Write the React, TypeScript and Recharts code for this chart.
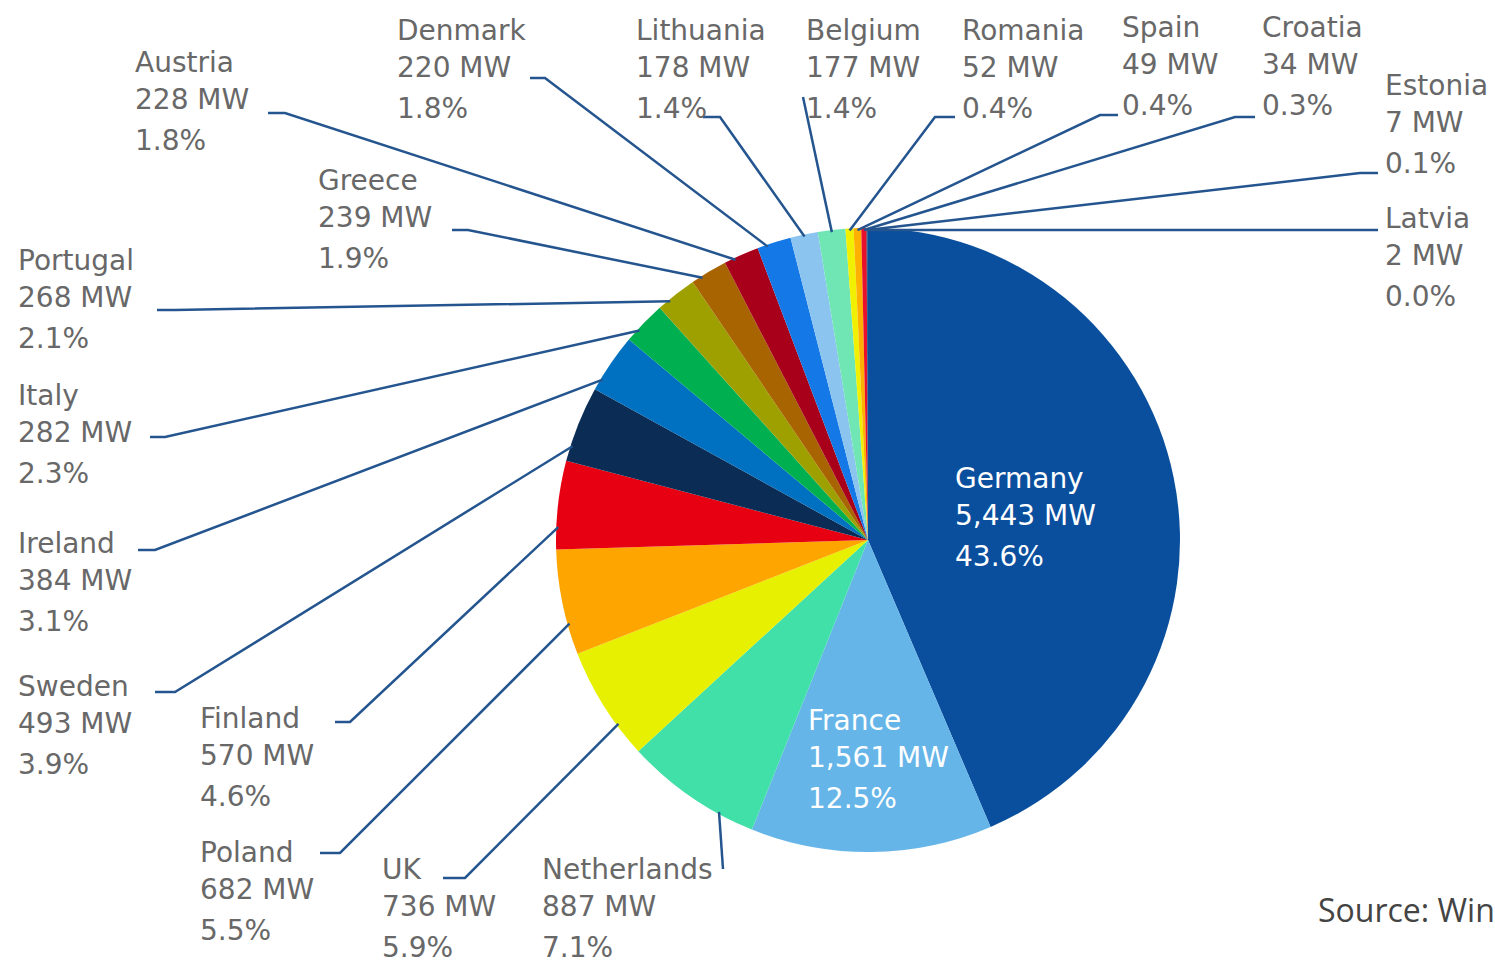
import React from "react";
import { PieChart, Pie, Cell } from "recharts";

const countries = [
  "Germany", "France", "Netherlands", "UK", "Poland", "Finland", "Sweden", "Ireland",
  "Italy", "Portugal", "Greece", "Austria", "Denmark", "Lithuania", "Belgium",
  "Romania", "Spain", "Croatia", "Estonia", "Latvia",
];
const capacityMW = [5443, 1561, 887, 736, 682, 570, 493, 384, 282, 268, 239, 228, 220, 178, 177, 52, 49, 34, 7, 2];
const shareLabels = [
  "43.6%", "12.5%", "7.1%", "5.9%", "5.5%", "4.6%", "3.9%", "3.1%", "2.3%", "2.1%",
  "1.9%", "1.8%", "1.8%", "1.4%", "1.4%", "0.4%", "0.4%", "0.3%", "0.1%", "0.0%",
];
const sliceColors = [
  "#0a4f9e", "#66b5e8", "#40e0a8", "#e6f000", "#ffa500", "#e60012", "#0b2d55", "#0070c0",
  "#00b050", "#9ea000", "#a86400", "#a8001a", "#1478e6", "#8cc4f0", "#70e6b4",
  "#f0f000", "#ffb000", "#e8102a", "#0b2d55", "#0070c0",
];

// label layout (text position, elbow segment, optional angle offset in degrees clockwise)
const labelLayout = [
  { x: 955, y: 478, inside: true },
  { x: 808, y: 720, inside: true },
  { x: 542, y: 869, hx1: 723, hx2: 723, hy: 869, off: -5.9 },
  { x: 382, y: 869, hx1: 443, hx2: 465, hy: 878, off: -4.4 },
  { x: 200, y: 852, hx1: 320, hx2: 340, hy: 853, off: -4.1 },
  { x: 200, y: 718, hx1: 335, hx2: 350, hy: 722, off: -4.1 },
  { x: 18, y: 686, hx1: 155, hx2: 175, hy: 692, off: -4.2 },
  { x: 18, y: 543, hx1: 138, hx2: 155, hy: 550, off: -3.3 },
  { x: 18, y: 395, hx1: 150, hx2: 165, hy: 437, off: -1.5 },
  { x: 18, y: 260, hx1: 157, hx2: 175, hy: 310, off: -1.6 },
  { x: 318, y: 180, hx1: 452, hx2: 468, hy: 230, off: -1.5 },
  { x: 135, y: 62, hx1: 268, hx2: 285, hy: 113, off: -1.3 },
  { x: 397, y: 30, hx1: 530, hx2: 545, hy: 78, off: -1.3 },
  { x: 636, y: 30, hx1: 703, hx2: 720, hy: 117, off: 0 },
  { x: 806, y: 30, hx1: 803, hx2: 803, hy: 97, off: 0 },
  { x: 962, y: 30, hx1: 955, hx2: 935, hy: 117, off: 0 },
  { x: 1122, y: 27, hx1: 1118, hx2: 1100, hy: 115, off: 0 },
  { x: 1262, y: 27, hx1: 1255, hx2: 1235, hy: 117, off: 0 },
  { x: 1385, y: 85, hx1: 1378, hx2: 1360, hy: 173, off: 0 },
  { x: 1385, y: 218, hx1: 1378, hx2: 1378, hy: 230, off: 0 },
];

const data = countries.map((name, i) => ({
  name,
  value: capacityMW[i],
  share: shareLabels[i],
}));

const fmt = (v: number) => v.toLocaleString("en-US") + " MW";

const FONT = "'DejaVu Sans', sans-serif";
const RAD = Math.PI / 180;

const renderLabel = (props: any) => {
  const { cx, cy, midAngle, outerRadius, index } = props;
  const L: any = labelLayout[index];
  const d = data[index];
  const color = L.inside ? "#ffffff" : "#686868";
  const texts = [d.name, fmt(d.value), d.share];
  const offs = [0, 37, 78];
  const textEls = texts.map((t, k) => (
    <text
      key={k}
      x={L.x}
      y={L.y + offs[k] + 10}
      fill={color}
      fontFamily={FONT}
      fontSize={28}
      textAnchor="start"
    >
      {t}
    </text>
  ));
  let line = null;
  if (!L.inside) {
    const ang = (midAngle - (L.off || 0)) * RAD;
    const r = outerRadius - 2;
    const ex = cx + Math.cos(-ang) * r;
    const ey = cy + Math.sin(-ang) * r;
    line = (
      <polyline
        points={`${L.hx1},${L.hy} ${L.hx2},${L.hy} ${ex},${ey}`}
        fill="none"
        stroke="#24558f"
        strokeWidth={2.5}
      />
    );
  }
  return (
    <g key={`lbl-${index}`}>
      {line}
      {textEls}
    </g>
  );
};

export default function App() {
  return (
    <div style={{ position: "absolute", left: 0, top: 0, width: 1495, height: 965, background: "#fff" }}>
      <PieChart width={1495} height={965} margin={{ top: 0, right: 0, bottom: 0, left: 0 }}>
        <Pie
          data={data}
          dataKey="value"
          nameKey="name"
          cx={868}
          cy={540}
          outerRadius={312}
          startAngle={90}
          endAngle={-270}
          stroke="none"
          label={renderLabel}
          labelLine={false}
          isAnimationActive={false}
        >
          {data.map((d, i) => (
            <Cell key={d.name} fill={sliceColors[i]} stroke="none" />
          ))}
        </Pie>
        <text x={1318} y={922} fill="#444" fontFamily="'Open Sans', sans-serif" fontSize={32}>
          Source: WindEurope
        </text>
      </PieChart>
    </div>
  );
}
